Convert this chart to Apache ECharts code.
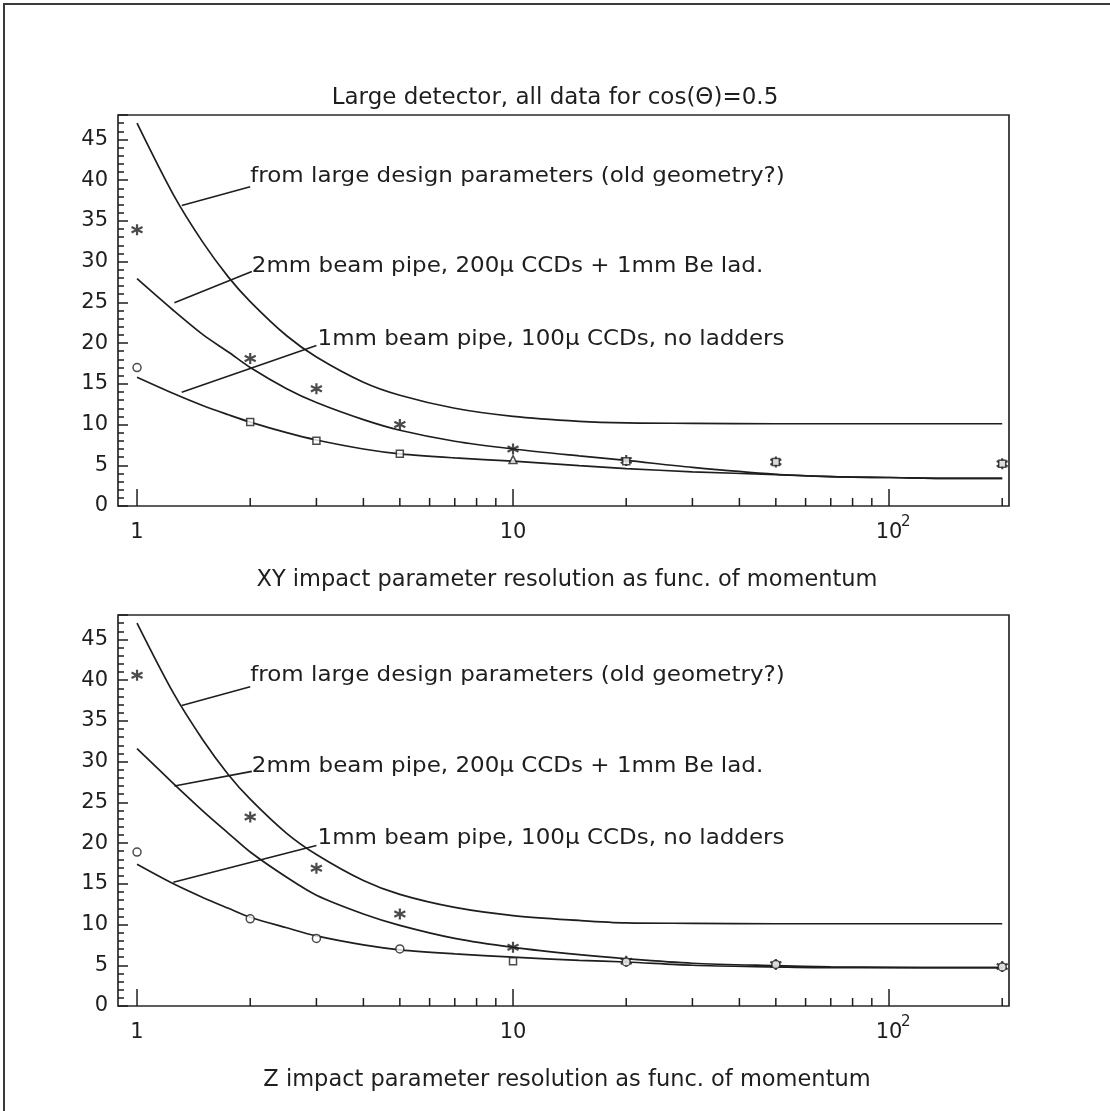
<!DOCTYPE html>
<html>
<head>
<meta charset="utf-8">
<title>Large detector impact parameter resolution</title>
<script src="https://cdn.jsdelivr.net/npm/echarts@6/dist/echarts.min.js"></script>
<style>
  html, body { margin: 0; padding: 0; background: #ffffff; }
  #chart { width: 1110px; height: 1111px; }
</style>
</head>
<body>
<div id="chart"></div>
<script>
// ---- momentum values of the simulated points ----
const momentum = [1, 2, 3, 5, 10, 20, 50, 200];

// ---- XY resolution: simulated points ----
const xyStar = [33.9, 18.1, 14.4, 10.0, 7.0, 5.6, 5.4, 5.2];
const xyCircleP = [1];
const xyCircle = [17.0];
const xySquareP = [2, 3, 5, 20, 50, 200];
const xySquare = [10.3, 8.0, 6.4, 5.5, 5.4, 5.2];
const xyTriangleP = [10];
const xyTriangle = [5.7];

// ---- Z resolution: simulated points ----
const zStar = [40.6, 23.2, 16.9, 11.3, 7.2, 5.5, 5.1, 4.85];
const zCircleP = [1, 2, 3, 5, 20, 50, 200];
const zCircle = [18.9, 10.7, 8.3, 7.0, 5.4, 5.1, 4.8];
const zSquareP = [10];
const zSquare = [5.5];

// ---- parametrised resolution curves ----
const curveP = [1, 1.25, 1.5, 1.75, 2, 2.5, 3, 4, 5, 7, 10, 15, 20, 30, 50, 70, 100, 150, 200];
const xyLarge = [47.0, 38.2, 32.3, 28.1, 25.1, 20.9, 18.3, 15.2, 13.6, 12.0, 11.0, 10.4, 10.2, 10.15, 10.1, 10.1, 10.1, 10.1, 10.1];
const xy2mm   = [27.9, 24.0, 21.0, 18.9, 17.0, 14.4, 12.7, 10.6, 9.3, 7.95, 7.0, 6.15, 5.6, 4.75, 3.9, 3.6, 3.5, 3.4, 3.4];
const xy1mm   = [15.8, 13.8, 12.3, 11.2, 10.3, 9.0, 8.1, 7.0, 6.4, 5.9, 5.5, 4.95, 4.6, 4.2, 3.85, 3.6, 3.5, 3.4, 3.4];
const zLarge  = [47.0, 38.4, 32.6, 28.4, 25.4, 21.2, 18.6, 15.4, 13.7, 12.1, 11.1, 10.5, 10.2, 10.15, 10.1, 10.1, 10.1, 10.1, 10.1];
const z2mm    = [31.6, 27.3, 23.9, 21.2, 18.9, 15.8, 13.6, 11.3, 9.9, 8.3, 7.2, 6.3, 5.8, 5.25, 4.95, 4.8, 4.75, 4.7, 4.7];
const z1mm    = [17.4, 15.0, 13.3, 12.0, 10.9, 9.6, 8.6, 7.5, 6.9, 6.4, 6.0, 5.6, 5.4, 5.0, 4.8, 4.7, 4.7, 4.7, 4.7];

// ---- curve annotations: leader line (curve -> label) and label baseline, in data units ----
const noteText = [
  'from large design parameters (old geometry?)',
  '2mm beam pipe, 200\u03bc CCDs + 1mm Be lad.',
  '1mm beam pipe, 100\u03bc CCDs, no ladders'
];
const xyNoteFrom  = [[1.315, 36.9], [1.257, 24.95], [1.315, 13.95]];
const xyNoteTo    = [[2.0, 39.2], [2.02, 28.8], [3.0, 19.7]];
const xyNoteLabel = [[2.0, 39.6], [2.02, 28.6], [3.02, 19.6]];
const zNoteFrom   = [[1.315, 36.9], [1.257, 27.0], [1.249, 15.2]];
const zNoteTo     = [[2.0, 39.2], [2.02, 28.8], [3.0, 19.7]];
const zNoteLabel  = [[2.0, 39.7], [2.02, 28.6], [3.02, 19.7]];

// ---- axis ticks and labels ----
const xMajorTicks = [1, 10, 100];
const xMinorTicks = [2, 3, 4, 5, 6, 7, 8, 9, 20, 30, 40, 50, 60, 70, 80, 90, 200];
const xLabelAt = [1, 10, 100];
const xLabelBase = ['1', '10', '10'];
const xLabelExp = ['', '', '2'];

const chartTitle = 'Large detector, all data for cos(\u0398)=0.5';
const xyAxisTitle = 'XY impact parameter resolution as func. of momentum';
const zAxisTitle = 'Z impact parameter resolution as func. of momentum';

// ---- drawing ----
const INK = '#1e1e1e';
const FONT = '"DejaVu Sans", "Liberation Sans", sans-serif';
const NOTE_FS = 22;
const TICK_FS = 21;

const pairs = (xs, ys) => xs.map((x, i) => [x, ys[i]]);

function curve(xs, ys, g) {
  return {
    type: 'line', xAxisIndex: g, yAxisIndex: g,
    data: pairs(xs, ys), showSymbol: false, smooth: 0.3,
    lineStyle: { color: INK, width: 1.7 }, silent: true, z: 3
  };
}

const STAR = 'path://M5,0L5,10M0.67,2.5L9.33,7.5M0.67,7.5L9.33,2.5';

function marks(xs, ys, g, symbol, size) {
  const star = symbol === STAR;
  return {
    type: 'scatter', xAxisIndex: g, yAxisIndex: g,
    data: pairs(xs, ys), symbol: symbol, symbolSize: size, silent: true, z: 4,
    itemStyle: star
      ? { color: INK, borderColor: INK, borderWidth: 2.2 }
      : { color: '#ffffff', borderColor: INK, borderWidth: 1.5 }
  };
}

function ticks(values, len, g) {
  return {
    type: 'custom', coordinateSystem: 'cartesian2d', xAxisIndex: g, yAxisIndex: g,
    data: values.map(v => [v, 0]), silent: true, z: 5,
    renderItem: (params, api) => {
      const p = api.coord([api.value(0), 0]);
      return {
        type: 'line',
        shape: { x1: p[0], y1: p[1], x2: p[0], y2: p[1] - len },
        style: { stroke: INK, lineWidth: 1.5 }
      };
    }
  };
}

function xLabels(g) {
  return {
    type: 'custom', coordinateSystem: 'cartesian2d', xAxisIndex: g, yAxisIndex: g,
    data: xLabelAt.map((v, i) => [v, 0, i]), silent: true, clip: false,
    renderItem: (params, api) => {
      const i = api.value(2);
      const p = api.coord([api.value(0), 0]);
      const kids = [{
        type: 'text', x: p[0], y: p[1] + 27,
        style: { text: xLabelBase[i], font: TICK_FS + 'px ' + FONT, fill: INK, align: 'center', verticalAlign: 'middle' }
      }];
      if (xLabelExp[i]) {
        kids.push({
          type: 'text', x: p[0] + 12, y: p[1] + 16,
          style: { text: xLabelExp[i], font: '15px ' + FONT, fill: INK, align: 'left', verticalAlign: 'middle' }
        });
      }
      return { type: 'group', children: kids };
    }
  };
}

function notes(from, to, at, g) {
  return {
    type: 'custom', coordinateSystem: 'cartesian2d', xAxisIndex: g, yAxisIndex: g,
    data: from.map((f, i) => [f[0], f[1], to[i][0], to[i][1], at[i][0], at[i][1], i]), silent: true, z: 6,
    renderItem: (params, api) => {
      const a = api.coord([api.value(0), api.value(1)]);
      const b = api.coord([api.value(2), api.value(3)]);
      const c = api.coord([api.value(4), api.value(5)]);
      return {
        type: 'group',
        children: [
          { type: 'line', shape: { x1: a[0], y1: a[1], x2: b[0], y2: b[1] },
            style: { stroke: INK, lineWidth: 1.6 } },
          { type: 'text', x: c[0], y: c[1] - 7, scaleX: 1.045,
            style: { text: noteText[api.value(6)], font: NOTE_FS + 'px ' + FONT, fill: INK,
                     align: 'left', verticalAlign: 'middle' } }
        ]
      };
    }
  };
}

const X_MIN = 0.89, X_MAX = 208.5;

function xAxis(g) {
  return {
    type: 'log', logBase: 10, gridIndex: g, min: X_MIN, max: X_MAX,
    axisLine: { show: false }, axisTick: { show: false },
    axisLabel: { show: false }, splitLine: { show: false }
  };
}
function yAxis(g) {
  return {
    type: 'value', gridIndex: g, min: 0, max: 48, interval: 5,
    axisLine: { show: false },
    axisTick: { show: true, inside: true, length: 10, lineStyle: { color: INK, width: 1.5 } },
    minorTick: { show: true, splitNumber: 5, length: 6, lineStyle: { color: INK, width: 1.5 } },
    axisLabel: { show: true, margin: 10, showMaxLabel: false, color: INK, fontSize: TICK_FS, fontFamily: FONT },
    splitLine: { show: false }
  };
}

const chart = echarts.init(document.getElementById('chart'), null, { renderer: 'canvas' });
chart.setOption({
  backgroundColor: '#ffffff',
  animation: false,
  grid: [
    { left: 118, top: 115, width: 891, height: 391, show: true, borderColor: '#2a2a2a', borderWidth: 1.7, backgroundColor: 'transparent' },
    { left: 118, top: 615, width: 891, height: 391, show: true, borderColor: '#2a2a2a', borderWidth: 1.7, backgroundColor: 'transparent' }
  ],
  xAxis: [xAxis(0), xAxis(1)],
  yAxis: [yAxis(0), yAxis(1)],
  graphic: [
    { type: 'polyline', shape: { points: [[4, 1111], [4, 4], [1110, 4]] }, style: { stroke: '#3a3a3a', lineWidth: 2, fill: null } },
    { type: 'text', x: 555, y: 98, style: { text: chartTitle, font: '23px ' + FONT, fill: INK, align: 'center', verticalAlign: 'middle' } },
    { type: 'text', x: 567, y: 580, style: { text: xyAxisTitle, font: '22.5px ' + FONT, fill: INK, align: 'center', verticalAlign: 'middle' } },
    { type: 'text', x: 567, y: 1080, style: { text: zAxisTitle, font: '22.5px ' + FONT, fill: INK, align: 'center', verticalAlign: 'middle' } }
  ],
  series: [
    // XY panel
    curve(curveP, xyLarge, 0), curve(curveP, xy2mm, 0), curve(curveP, xy1mm, 0),
    marks(momentum, xyStar, 0, STAR, 11),
    marks(xyCircleP, xyCircle, 0, 'circle', 8),
    marks(xySquareP, xySquare, 0, 'rect', 7),
    marks(xyTriangleP, xyTriangle, 0, 'triangle', 8),
    ticks(xMajorTicks, 17, 0), ticks(xMinorTicks, 8, 0), xLabels(0),
    notes(xyNoteFrom, xyNoteTo, xyNoteLabel, 0),
    // Z panel
    curve(curveP, zLarge, 1), curve(curveP, z2mm, 1), curve(curveP, z1mm, 1),
    marks(momentum, zStar, 1, STAR, 11),
    marks(zCircleP, zCircle, 1, 'circle', 8),
    marks(zSquareP, zSquare, 1, 'rect', 7),
    ticks(xMajorTicks, 17, 1), ticks(xMinorTicks, 8, 1), xLabels(1),
    notes(zNoteFrom, zNoteTo, zNoteLabel, 1)
  ]
});
</script>
</body>
</html>
